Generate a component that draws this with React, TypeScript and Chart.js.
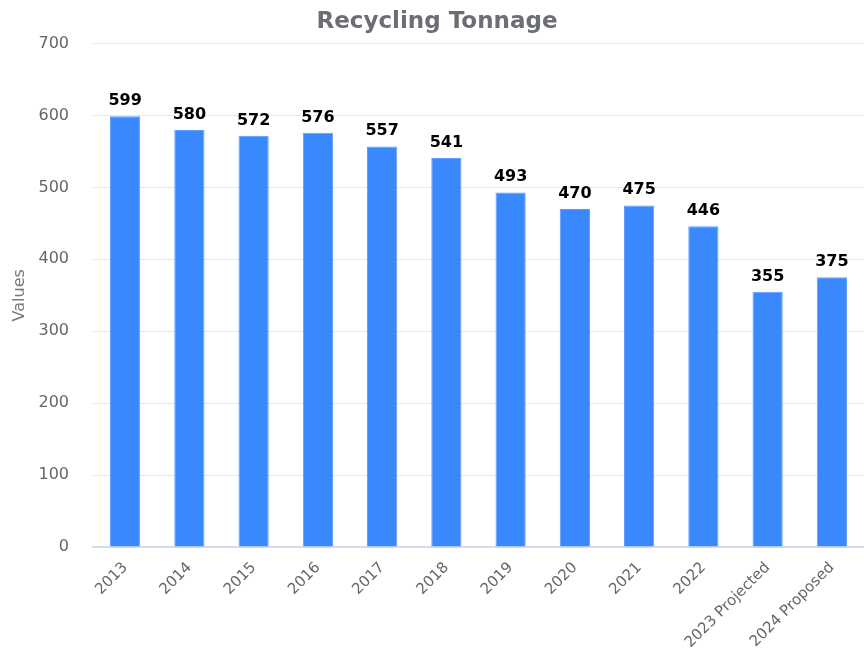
import React, { useEffect, useRef } from "react";
import { Chart, registerables } from "chart.js";

Chart.register(...registerables);

const categories = ["2013", "2014", "2015", "2016", "2017", "2018", "2019", "2020", "2021", "2022", "2023 Projected", "2024 Proposed"];
const values = [599, 580, 572, 576, 557, 541, 493, 470, 475, 446, 355, 375];
const titleText = "Recycling Tonnage";
const yAxisTitle = "Values";

const FONT = "'DejaVu Sans', 'Open Sans', sans-serif";

const valueLabels = {
  id: "valueLabels",
  afterDatasetsDraw(chart: any) {
    const ctx = chart.ctx;
    const meta = chart.getDatasetMeta(0);
    ctx.save();
    ctx.font = `bold 16px ${FONT}`;
    ctx.fillStyle = "#000";
    ctx.textAlign = "center";
    ctx.textBaseline = "alphabetic";
    meta.data.forEach((bar: any, i: number) => {
      ctx.fillText(String(values[i]), bar.x, bar.y - 11);
    });
    ctx.restore();
  },
};

export default function App() {
  const ref = useRef<HTMLCanvasElement>(null);
  useEffect(() => {
    const chart = new Chart(ref.current!, {
      type: "bar",
      data: {
        labels: categories,
        datasets: [
          {
            data: values,
            backgroundColor: "#3a88fe",
            borderColor: "#5c9cfe",
            borderWidth: 1,
            barPercentage: 0.47,
            categoryPercentage: 1,
          },
        ],
      },
      options: {
        animation: false,
        responsive: false,
        maintainAspectRatio: false,
        layout: { padding: { left: 10, right: 0, top: 0, bottom: 0 } },
        plugins: {
          legend: { display: false },
          tooltip: { enabled: false },
          title: {
            display: true,
            text: titleText,
            color: "#6b6e74",
            font: { family: FONT, size: 23, weight: "bold" },
            padding: { top: 8, bottom: 8 },
          },
        },
        scales: {
          x: {
            grid: { display: false },
            border: { color: "#d5dbe8", width: 2 },
            ticks: {
              color: "#666",
              font: { family: FONT, size: 15 },
              maxRotation: 45,
              minRotation: 45,
              padding: 4,
            },
            afterFit: (scale: any) => {
              scale.height = 111;
            },
          },
          y: {
            min: 0,
            max: 700,
            grid: { color: "#e6e6e6", drawTicks: false },
            border: { display: false },
            ticks: {
              stepSize: 100,
              color: "#666",
              font: { family: FONT, size: 16 },
              padding: 24,
            },
            title: {
              display: true,
              text: yAxisTitle,
              color: "#777",
              font: { family: FONT, size: 16 },
              padding: { top: 0, bottom: 6 },
            },
            afterFit: (scale: any) => {
              scale.width = 83;
            },
          },
        },
      },
      plugins: [valueLabels],
    });
    return () => chart.destroy();
  }, []);
  return (
    <div style={{ position: "fixed", left: 0, top: 0, width: 864, height: 658, background: "#fff" }}>
      <canvas ref={ref} width={864} height={658} />
    </div>
  );
}
